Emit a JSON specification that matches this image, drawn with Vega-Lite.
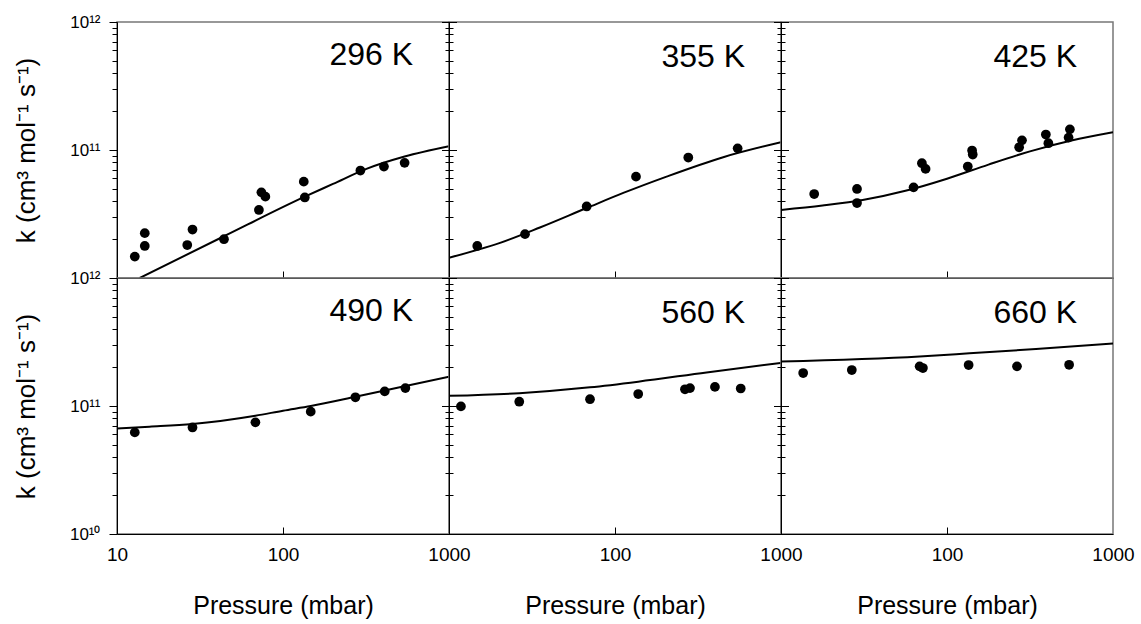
{
"$schema": "https://vega.github.io/schema/vega-lite/v6.json",
"padding": {"left": 12, "top": 12, "right": 5, "bottom": 0},
"background": "white",
"config": {
 "font": "Liberation Sans",
 "view": {"stroke": "#777", "strokeWidth": 1.5},
 "axis": {"titleFontWeight": "normal", "titleColor": "black", "labelColor": "black", "tickColor": "black", "domainColor": "black", "grid": false, "labelFlush": false, "labelOverlap": false, "titleFont": "Liberation Sans", "labelFont": "Liberation Sans"},
 "axisX": {"labelFontSize": 19, "titleFontSize": 25},
 "axisY": {"labelFontSize": 17, "titleFontSize": 26},
 "title": {"fontSize": 32, "fontWeight": "normal", "color": "black", "font": "Liberation Sans"}
},
"datasets": {"d": [
{"T":"296 K","type":"exp","P":12.8,"k":1.47e10},
{"T":"296 K","type":"exp","P":14.7,"k":2.24e10},
{"T":"296 K","type":"exp","P":14.7,"k":1.78e10},
{"T":"296 K","type":"exp","P":26.5,"k":1.81e10},
{"T":"296 K","type":"exp","P":28.5,"k":2.39e10},
{"T":"296 K","type":"exp","P":44.1,"k":2.01e10},
{"T":"296 K","type":"exp","P":71.6,"k":3.40e10},
{"T":"296 K","type":"exp","P":74.1,"k":4.67e10},
{"T":"296 K","type":"exp","P":78.3,"k":4.32e10},
{"T":"296 K","type":"exp","P":133.4,"k":5.66e10},
{"T":"296 K","type":"exp","P":135.3,"k":4.26e10},
{"T":"296 K","type":"exp","P":292.6,"k":6.91e10},
{"T":"296 K","type":"exp","P":405.7,"k":7.42e10},
{"T":"296 K","type":"exp","P":540.3,"k":7.94e10},
{"T":"296 K","type":"fit","P":13.7,"k":1.0e10},
{"T":"296 K","type":"fit","P":44.1,"k":2.12e10},
{"T":"296 K","type":"fit","P":135.3,"k":4.32e10},
{"T":"296 K","type":"fit","P":200,"k":5.43e10},
{"T":"296 K","type":"fit","P":318,"k":7.12e10},
{"T":"296 K","type":"fit","P":540,"k":8.89e10},
{"T":"296 K","type":"fit","P":1000,"k":1.07e11},
{"T":"355 K","type":"exp","P":14.8,"k":1.78e10},
{"T":"355 K","type":"exp","P":28.7,"k":2.20e10},
{"T":"355 K","type":"exp","P":67.5,"k":3.62e10},
{"T":"355 K","type":"exp","P":133.8,"k":6.19e10},
{"T":"355 K","type":"exp","P":276.4,"k":8.73e10},
{"T":"355 K","type":"exp","P":548,"k":1.03e11},
{"T":"355 K","type":"fit","P":10,"k":1.44e10},
{"T":"355 K","type":"fit","P":20.3,"k":1.88e10},
{"T":"355 K","type":"fit","P":35.3,"k":2.48e10},
{"T":"355 K","type":"fit","P":67.5,"k":3.52e10},
{"T":"355 K","type":"fit","P":112.2,"k":4.62e10},
{"T":"355 K","type":"fit","P":204.6,"k":6.20e10},
{"T":"355 K","type":"fit","P":448.6,"k":8.79e10},
{"T":"355 K","type":"fit","P":1000,"k":1.15e11},
{"T":"425 K","type":"exp","P":15.85,"k":4.53e10},
{"T":"425 K","type":"exp","P":28.7,"k":4.96e10},
{"T":"425 K","type":"exp","P":28.7,"k":3.85e10},
{"T":"425 K","type":"exp","P":62.9,"k":5.11e10},
{"T":"425 K","type":"exp","P":70.6,"k":7.88e10},
{"T":"425 K","type":"exp","P":74.3,"k":7.12e10},
{"T":"425 K","type":"exp","P":133.4,"k":7.43e10},
{"T":"425 K","type":"exp","P":141.6,"k":9.91e10},
{"T":"425 K","type":"exp","P":142.9,"k":9.22e10},
{"T":"425 K","type":"exp","P":272,"k":1.05e11},
{"T":"425 K","type":"exp","P":283,"k":1.19e11},
{"T":"425 K","type":"exp","P":394,"k":1.32e11},
{"T":"425 K","type":"exp","P":408,"k":1.13e11},
{"T":"425 K","type":"exp","P":550,"k":1.45e11},
{"T":"425 K","type":"exp","P":540,"k":1.25e11},
{"T":"425 K","type":"fit","P":10,"k":3.40e10},
{"T":"425 K","type":"fit","P":17.8,"k":3.68e10},
{"T":"425 K","type":"fit","P":31.6,"k":4.08e10},
{"T":"425 K","type":"fit","P":56.2,"k":4.80e10},
{"T":"425 K","type":"fit","P":100,"k":5.97e10},
{"T":"425 K","type":"fit","P":177.8,"k":7.69e10},
{"T":"425 K","type":"fit","P":316,"k":9.75e10},
{"T":"425 K","type":"fit","P":562,"k":1.186e11},
{"T":"425 K","type":"fit","P":1000,"k":1.377e11},
{"T":"490 K","type":"exp","P":12.8,"k":6.22e10},
{"T":"490 K","type":"exp","P":28.5,"k":6.80e10},
{"T":"490 K","type":"exp","P":68.2,"k":7.45e10},
{"T":"490 K","type":"exp","P":146.9,"k":9.03e10},
{"T":"490 K","type":"exp","P":273,"k":1.17e11},
{"T":"490 K","type":"exp","P":410,"k":1.30e11},
{"T":"490 K","type":"exp","P":546,"k":1.38e11},
{"T":"490 K","type":"fit","P":10,"k":6.68e10},
{"T":"490 K","type":"fit","P":15.7,"k":6.89e10},
{"T":"490 K","type":"fit","P":28.5,"k":7.23e10},
{"T":"490 K","type":"fit","P":68.2,"k":8.40e10},
{"T":"490 K","type":"fit","P":100,"k":9.19e10},
{"T":"490 K","type":"fit","P":147,"k":1.00e11},
{"T":"490 K","type":"fit","P":273,"k":1.18e11},
{"T":"490 K","type":"fit","P":505,"k":1.40e11},
{"T":"490 K","type":"fit","P":1000,"k":1.69e11},
{"T":"560 K","type":"exp","P":11.8,"k":9.93e10},
{"T":"560 K","type":"exp","P":26.5,"k":1.08e11},
{"T":"560 K","type":"exp","P":70.7,"k":1.13e11},
{"T":"560 K","type":"exp","P":138,"k":1.24e11},
{"T":"560 K","type":"exp","P":264,"k":1.35e11},
{"T":"560 K","type":"exp","P":283,"k":1.38e11},
{"T":"560 K","type":"exp","P":400,"k":1.41e11},
{"T":"560 K","type":"exp","P":572,"k":1.37e11},
{"T":"560 K","type":"fit","P":10,"k":1.20e11},
{"T":"560 K","type":"fit","P":26.5,"k":1.26e11},
{"T":"560 K","type":"fit","P":70.7,"k":1.40e11},
{"T":"560 K","type":"fit","P":138,"k":1.55e11},
{"T":"560 K","type":"fit","P":356,"k":1.83e11},
{"T":"560 K","type":"fit","P":1000,"k":2.17e11},
{"T":"660 K","type":"exp","P":13.6,"k":1.81e11},
{"T":"660 K","type":"exp","P":26.7,"k":1.91e11},
{"T":"660 K","type":"exp","P":68.4,"k":2.04e11},
{"T":"660 K","type":"exp","P":71.6,"k":1.98e11},
{"T":"660 K","type":"exp","P":135,"k":2.09e11},
{"T":"660 K","type":"exp","P":264,"k":2.04e11},
{"T":"660 K","type":"exp","P":544,"k":2.10e11},
{"T":"660 K","type":"fit","P":10,"k":2.23e11},
{"T":"660 K","type":"fit","P":68.4,"k":2.44e11},
{"T":"660 K","type":"fit","P":136.5,"k":2.58e11},
{"T":"660 K","type":"fit","P":343.6,"k":2.79e11},
{"T":"660 K","type":"fit","P":1000,"k":3.08e11}
]},
"data": {"name": "d"},
"columns": 3,
"spacing": 0,
"bounds": "flush",
"concat": [
{"width": 332, "height": 256,
 "title": {"text": "296 K", "anchor": "end", "frame": "group", "orient": "top", "baseline": "alphabetic", "offset": 0, "dx": -36, "dy": 84},
 "layer": [
  {"transform": [{"filter": "datum.T == '296 K' && datum.type == 'fit'"}],
   "mark": {"type": "line", "color": "black", "strokeWidth": 2, "clip": true, "interpolate": "monotone"},
   "encoding": {
    "x": {"field": "P", "type": "quantitative", "scale": {"type": "log", "domain": [10, 1000], "nice": false}, "axis": {"orient": "bottom", "values": [100], "labels": false, "domain": false, "ticks": true, "tickSize": 7, "offset": -7, "title": null}},
    "y": {"field": "k", "type": "quantitative", "scale": {"type": "log", "domain": [1e10, 1e12], "nice": false}, "axis": {"orient": "left", "values": [2e10,3e10,4e10,5e10,6e10,7e10,8e10,9e10,2e11,3e11,4e11,5e11,6e11,7e11,8e11,9e11], "labels": false, "domain": false, "ticks": true, "tickSize": 5, "title": null}}
   }},
  {"transform": [{"filter": "datum.T == '296 K' && datum.type == 'exp'"}],
   "mark": {"type": "circle", "color": "black", "size": 95, "opacity": 1, "clip": true},
   "encoding": {
    "x": {"field": "P", "type": "quantitative", "axis": {"orient": "bottom", "labels": false, "ticks": false, "domain": true, "title": null}},
    "y": {"field": "k", "type": "quantitative", "axis": {"orient": "left", "values": [1e11, 1e12], "labelExpr": "datum.value > 5e11 ? '10¹²' : datum.value > 5e10 ? '10¹¹' : '10¹⁰'", "ticks": true, "tickSize": 8, "domain": true, "labelPadding": 9, "title": "k (cm³ mol⁻¹ s⁻¹)", "titlePadding": 30}}
   }}
 ],
 "resolve": {"axis": {"x": "independent", "y": "independent"}}
},
{"width": 332, "height": 256,
 "title": {"text": "355 K", "anchor": "end", "frame": "group", "orient": "top", "baseline": "alphabetic", "offset": 0, "dx": -36, "dy": 77},
 "layer": [
  {"transform": [{"filter": "datum.T == '355 K' && datum.type == 'fit'"}],
   "mark": {"type": "line", "color": "black", "strokeWidth": 2, "clip": true, "interpolate": "monotone"},
   "encoding": {
    "x": {"field": "P", "type": "quantitative", "scale": {"type": "log", "domain": [10, 1000], "nice": false}, "axis": {"orient": "bottom", "values": [100], "labels": false, "domain": false, "ticks": true, "tickSize": 7, "offset": -7, "title": null}},
    "y": {"field": "k", "type": "quantitative", "scale": {"type": "log", "domain": [1e10, 1e12], "nice": false}, "axis": {"orient": "left", "values": [2e10,3e10,4e10,5e10,6e10,7e10,8e10,9e10,2e11,3e11,4e11,5e11,6e11,7e11,8e11,9e11], "labels": false, "domain": false, "ticks": true, "tickSize": 8, "offset": -4, "title": null}}
   }},
  {"transform": [{"filter": "datum.T == '355 K' && datum.type == 'exp'"}],
   "mark": {"type": "circle", "color": "black", "size": 95, "opacity": 1, "clip": true},
   "encoding": {
    "x": {"field": "P", "type": "quantitative", "axis": {"orient": "bottom", "labels": false, "ticks": false, "domain": true, "title": null}},
    "y": {"field": "k", "type": "quantitative", "axis": {"orient": "left", "labels": false, "ticks": false, "domain": true, "title": null}}
   }},
  {"transform": [{"filter": "datum.T == '355 K' && datum.type == 'exp'"}],
   "mark": {"type": "point", "opacity": 0},
   "encoding": {
    "x": {"field": "P", "type": "quantitative", "axis": null},
    "y": {"field": "k", "type": "quantitative", "axis": {"orient": "left", "values": [1e10, 1e11, 1e12], "labels": false, "domain": false, "ticks": true, "tickSize": 15, "offset": -7.5, "title": null}}
   }}
 ],
 "resolve": {"axis": {"x": "independent", "y": "independent"}}
},
{"width": 332, "height": 256,
 "title": {"text": "425 K", "anchor": "end", "frame": "group", "orient": "top", "baseline": "alphabetic", "offset": 0, "dx": -36, "dy": 77},
 "layer": [
  {"transform": [{"filter": "datum.T == '425 K' && datum.type == 'fit'"}],
   "mark": {"type": "line", "color": "black", "strokeWidth": 2, "clip": true, "interpolate": "monotone"},
   "encoding": {
    "x": {"field": "P", "type": "quantitative", "scale": {"type": "log", "domain": [10, 1000], "nice": false}, "axis": {"orient": "bottom", "values": [100], "labels": false, "domain": false, "ticks": true, "tickSize": 7, "offset": -7, "title": null}},
    "y": {"field": "k", "type": "quantitative", "scale": {"type": "log", "domain": [1e10, 1e12], "nice": false}, "axis": {"orient": "left", "values": [2e10,3e10,4e10,5e10,6e10,7e10,8e10,9e10,2e11,3e11,4e11,5e11,6e11,7e11,8e11,9e11], "labels": false, "domain": false, "ticks": true, "tickSize": 8, "offset": -4, "title": null}}
   }},
  {"transform": [{"filter": "datum.T == '425 K' && datum.type == 'exp'"}],
   "mark": {"type": "circle", "color": "black", "size": 95, "opacity": 1, "clip": true},
   "encoding": {
    "x": {"field": "P", "type": "quantitative", "axis": {"orient": "bottom", "labels": false, "ticks": false, "domain": true, "title": null}},
    "y": {"field": "k", "type": "quantitative", "axis": {"orient": "left", "labels": false, "ticks": false, "domain": true, "title": null}}
   }},
  {"transform": [{"filter": "datum.T == '425 K' && datum.type == 'exp'"}],
   "mark": {"type": "point", "opacity": 0},
   "encoding": {
    "x": {"field": "P", "type": "quantitative", "axis": null},
    "y": {"field": "k", "type": "quantitative", "axis": {"orient": "left", "values": [1e10, 1e11, 1e12], "labels": false, "domain": false, "ticks": true, "tickSize": 15, "offset": -7.5, "title": null}}
   }}
 ],
 "resolve": {"axis": {"x": "independent", "y": "independent"}}
},
{"width": 332, "height": 256,
 "title": {"text": "490 K", "anchor": "end", "frame": "group", "orient": "top", "baseline": "alphabetic", "offset": 0, "dx": -36, "dy": 84},
 "layer": [
  {"transform": [{"filter": "datum.T == '490 K' && datum.type == 'fit'"}],
   "mark": {"type": "line", "color": "black", "strokeWidth": 2, "clip": true, "interpolate": "monotone"},
   "encoding": {
    "x": {"field": "P", "type": "quantitative", "scale": {"type": "log", "domain": [10, 1000], "nice": false}, "axis": {"orient": "bottom", "values": [100], "labels": false, "domain": false, "ticks": true, "tickSize": 7, "offset": -7, "title": null}},
    "y": {"field": "k", "type": "quantitative", "scale": {"type": "log", "domain": [1e10, 1e12], "nice": false}, "axis": {"orient": "left", "values": [2e10,3e10,4e10,5e10,6e10,7e10,8e10,9e10,2e11,3e11,4e11,5e11,6e11,7e11,8e11,9e11], "labels": false, "domain": false, "ticks": true, "tickSize": 5, "title": null}}
   }},
  {"transform": [{"filter": "datum.T == '490 K' && datum.type == 'exp'"}],
   "mark": {"type": "circle", "color": "black", "size": 95, "opacity": 1, "clip": true},
   "encoding": {
    "x": {"field": "P", "type": "quantitative", "axis": {"orient": "bottom", "values": [10, 100, 1000], "format": "d", "ticks": false, "domain": true, "labelPadding": 11, "title": "Pressure (mbar)", "titlePadding": 29}},
    "y": {"field": "k", "type": "quantitative", "axis": {"orient": "left", "values": [1e10, 1e11, 1e12], "labelExpr": "datum.value > 5e11 ? '10¹²' : datum.value > 5e10 ? '10¹¹' : '10¹⁰'", "ticks": true, "tickSize": 8, "domain": true, "labelPadding": 9, "title": "k (cm³ mol⁻¹ s⁻¹)", "titlePadding": 30}}
   }}
 ],
 "resolve": {"axis": {"x": "independent", "y": "independent"}}
},
{"width": 332, "height": 256,
 "title": {"text": "560 K", "anchor": "end", "frame": "group", "orient": "top", "baseline": "alphabetic", "offset": 0, "dx": -36, "dy": 77},
 "layer": [
  {"transform": [{"filter": "datum.T == '560 K' && datum.type == 'fit'"}],
   "mark": {"type": "line", "color": "black", "strokeWidth": 2, "clip": true, "interpolate": "monotone"},
   "encoding": {
    "x": {"field": "P", "type": "quantitative", "scale": {"type": "log", "domain": [10, 1000], "nice": false}, "axis": {"orient": "bottom", "values": [100], "labels": false, "domain": false, "ticks": true, "tickSize": 7, "offset": -7, "title": null}},
    "y": {"field": "k", "type": "quantitative", "scale": {"type": "log", "domain": [1e10, 1e12], "nice": false}, "axis": {"orient": "left", "values": [2e10,3e10,4e10,5e10,6e10,7e10,8e10,9e10,2e11,3e11,4e11,5e11,6e11,7e11,8e11,9e11], "labels": false, "domain": false, "ticks": true, "tickSize": 8, "offset": -4, "title": null}}
   }},
  {"transform": [{"filter": "datum.T == '560 K' && datum.type == 'exp'"}],
   "mark": {"type": "circle", "color": "black", "size": 95, "opacity": 1, "clip": true},
   "encoding": {
    "x": {"field": "P", "type": "quantitative", "axis": {"orient": "bottom", "values": [100, 1000], "format": "d", "ticks": false, "domain": true, "labelPadding": 11, "title": "Pressure (mbar)", "titlePadding": 29}},
    "y": {"field": "k", "type": "quantitative", "axis": {"orient": "left", "labels": false, "ticks": false, "domain": true, "title": null}}
   }},
  {"transform": [{"filter": "datum.T == '560 K' && datum.type == 'exp'"}],
   "mark": {"type": "point", "opacity": 0},
   "encoding": {
    "x": {"field": "P", "type": "quantitative", "axis": null},
    "y": {"field": "k", "type": "quantitative", "axis": {"orient": "left", "values": [1e10, 1e11, 1e12], "labels": false, "domain": false, "ticks": true, "tickSize": 15, "offset": -7.5, "title": null}}
   }}
 ],
 "resolve": {"axis": {"x": "independent", "y": "independent"}}
},
{"width": 332, "height": 256,
 "title": {"text": "660 K", "anchor": "end", "frame": "group", "orient": "top", "baseline": "alphabetic", "offset": 0, "dx": -36, "dy": 77},
 "layer": [
  {"transform": [{"filter": "datum.T == '660 K' && datum.type == 'fit'"}],
   "mark": {"type": "line", "color": "black", "strokeWidth": 2, "clip": true, "interpolate": "monotone"},
   "encoding": {
    "x": {"field": "P", "type": "quantitative", "scale": {"type": "log", "domain": [10, 1000], "nice": false}, "axis": {"orient": "bottom", "values": [100], "labels": false, "domain": false, "ticks": true, "tickSize": 7, "offset": -7, "title": null}},
    "y": {"field": "k", "type": "quantitative", "scale": {"type": "log", "domain": [1e10, 1e12], "nice": false}, "axis": {"orient": "left", "values": [2e10,3e10,4e10,5e10,6e10,7e10,8e10,9e10,2e11,3e11,4e11,5e11,6e11,7e11,8e11,9e11], "labels": false, "domain": false, "ticks": true, "tickSize": 8, "offset": -4, "title": null}}
   }},
  {"transform": [{"filter": "datum.T == '660 K' && datum.type == 'exp'"}],
   "mark": {"type": "circle", "color": "black", "size": 95, "opacity": 1, "clip": true},
   "encoding": {
    "x": {"field": "P", "type": "quantitative", "axis": {"orient": "bottom", "values": [100, 1000], "format": "d", "ticks": false, "domain": true, "labelPadding": 11, "title": "Pressure (mbar)", "titlePadding": 29}},
    "y": {"field": "k", "type": "quantitative", "axis": {"orient": "left", "labels": false, "ticks": false, "domain": true, "title": null}}
   }},
  {"transform": [{"filter": "datum.T == '660 K' && datum.type == 'exp'"}],
   "mark": {"type": "point", "opacity": 0},
   "encoding": {
    "x": {"field": "P", "type": "quantitative", "axis": null},
    "y": {"field": "k", "type": "quantitative", "axis": {"orient": "left", "values": [1e10, 1e11, 1e12], "labels": false, "domain": false, "ticks": true, "tickSize": 15, "offset": -7.5, "title": null}}
   }}
 ],
 "resolve": {"axis": {"x": "independent", "y": "independent"}}
}
]
}
